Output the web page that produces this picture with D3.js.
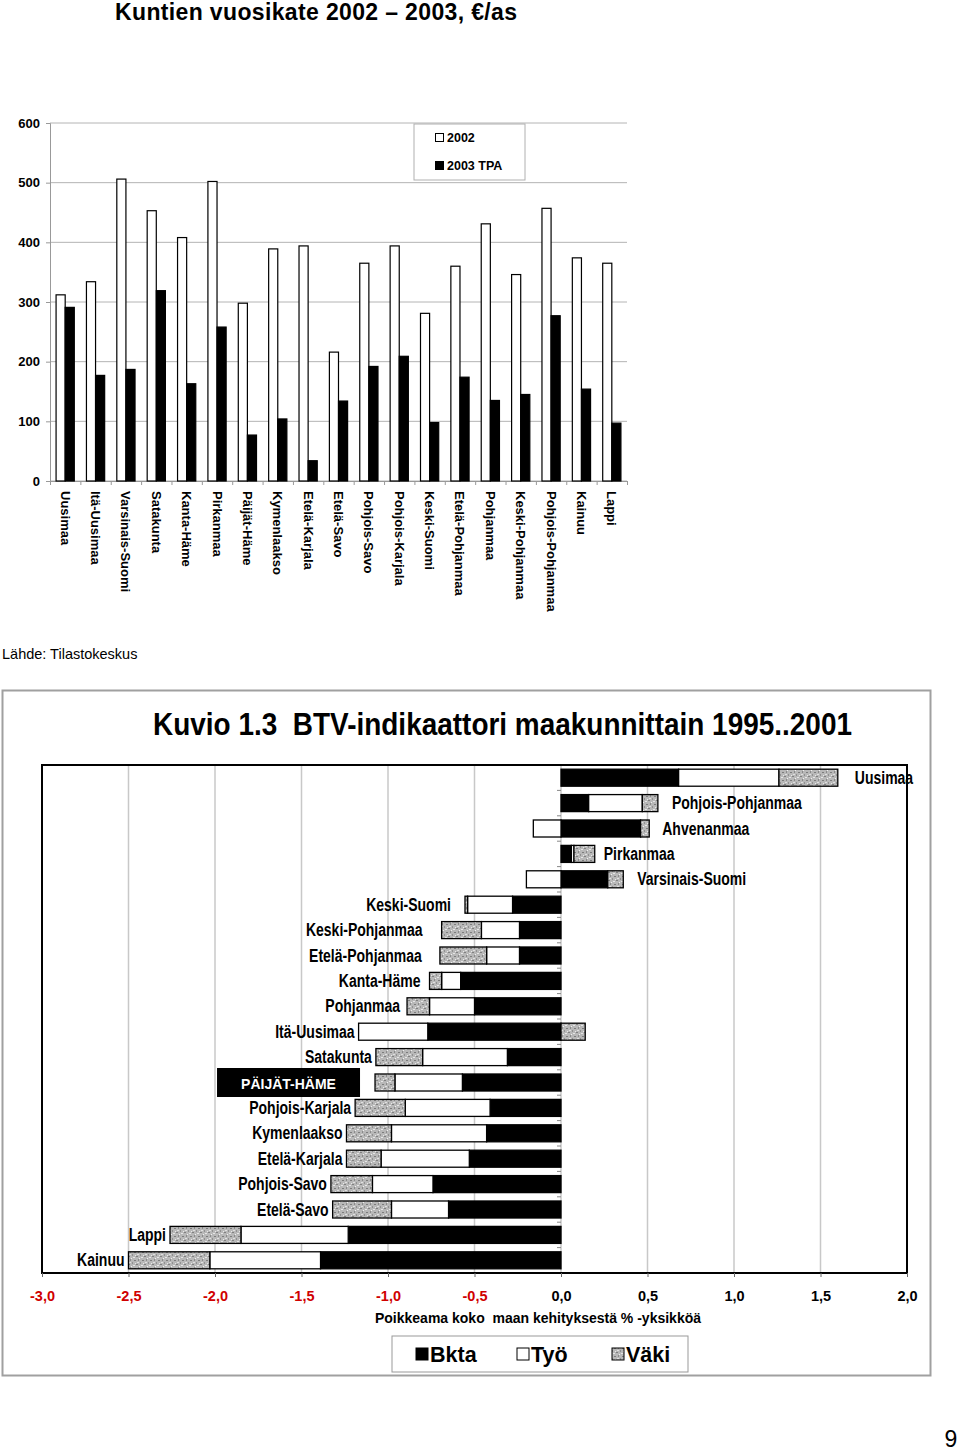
<!DOCTYPE html>
<html>
<head>
<meta charset="utf-8">
<script src="https://cdn.jsdelivr.net/npm/d3@7"></script>
<style>
body { margin: 0; background: #fff; }
svg { display: block; }
text { white-space: pre; }
</style>
</head>
<body>
<script>
// ---- DATA: kuntien vuosikate (€/as) ----
var maakunnat = ["Uusimaa","Itä-Uusimaa","Varsinais-Suomi","Satakunta","Kanta-Häme","Pirkanmaa","Päijät-Häme","Kymenlaakso","Etelä-Karjala","Etelä-Savo","Pohjois-Savo","Pohjois-Karjala","Keski-Suomi","Etelä-Pohjanmaa","Pohjanmaa","Keski-Pohjanmaa","Pohjois-Pohjanmaa","Kainuu","Lappi"];
var vk2002 = [312,334,506,453,408,502,298,389,394,216,365,394,281,360,431,346,457,374,365];
var vk2003 = [291,177,187,319,163,258,77,104,34,134,192,209,98,174,135,145,277,154,97];
var sarjat = ["2002","2003 TPA"];
var yTicks = [0,100,200,300,400,500,600];

// ---- DATA: BTV-indikaattori ----
var alueet = ["Uusimaa","Pohjois-Pohjanmaa","Ahvenanmaa","Pirkanmaa","Varsinais-Suomi","Keski-Suomi","Keski-Pohjanmaa","Etelä-Pohjanmaa","Kanta-Häme","Pohjanmaa","Itä-Uusimaa","Satakunta","Päijät-Häme","Pohjois-Karjala","Kymenlaakso","Etelä-Karjala","Pohjois-Savo","Etelä-Savo","Lappi","Kainuu"];
var bkta = [0.68,0.16,0.46,0.06,0.27,-0.28,-0.24,-0.24,-0.58,-0.50,-0.77,-0.31,-0.57,-0.41,-0.43,-0.53,-0.74,-0.65,-1.23,-1.39];
var tyo  = [0.58,0.31,-0.16,0.015,-0.20,-0.26,-0.22,-0.19,-0.11,-0.26,-0.40,-0.49,-0.39,-0.49,-0.55,-0.51,-0.35,-0.33,-0.62,-0.64];
var vaki = [0.34,0.09,0.05,0.12,0.09,-0.015,-0.23,-0.27,-0.07,-0.13,0.14,-0.27,-0.115,-0.29,-0.26,-0.20,-0.24,-0.34,-0.41,-0.47];
var btvSarjat = ["Bkta","Työ","Väki"];
var xTicks = [-3,-2.5,-2,-1.5,-1,-0.5,0,0.5,1,1.5,2];

// label gaps (px) that differ from the default ones
var labelGap = {"Uusimaa":17,"Pohjois-Pohjanmaa":14,"Ahvenanmaa":13,"Pirkanmaa":9,"Varsinais-Suomi":14,
                "Keski-Suomi":14,"Keski-Pohjanmaa":19,"Etelä-Pohjanmaa":18,"Kanta-Häme":9,"Pohjanmaa":7};

var arial = "'Liberation Sans', Arial, sans-serif";

// squeeze a text like Arial Narrow
function narrow(sel, k) {
  sel.each(function() {
    var len = this.getComputedTextLength();
    d3.select(this).attr("textLength", len * (k || 0.8)).attr("lengthAdjust", "spacingAndGlyphs");
  });
}

var svg = d3.select("body").append("svg")
    .attr("width", 960)
    .attr("height", 1451);

// pattern for Väki
var pat = svg.append("defs").append("pattern")
    .attr("id", "vakiPat")
    .attr("patternUnits", "userSpaceOnUse")
    .attr("width", 8).attr("height", 8);
pat.append("rect").attr("width", 8).attr("height", 8).attr("fill", "#b8b8b8");
[[0,0,2,1,"#808080"],[5,1,2,1,"#e6e6e6"],[2,3,1,2,"#8a8a8a"],[6,4,2,1,"#7c7c7c"],
 [1,6,2,1,"#e0e0e0"],[4,6,1,2,"#909090"],[3,2,1,1,"#f0f0f0"],[7,7,1,1,"#e8e8e8"]].forEach(function(s) {
  pat.append("rect").attr("x", s[0]).attr("y", s[1]).attr("width", s[2]).attr("height", s[3]).attr("fill", s[4]);
});

// ================= TOP CHART =================
svg.append("text")
    .attr("x", 115).attr("y", 20)
    .attr("textLength", 402)
    .style("font-family", arial).style("font-weight", "bold").style("font-size", "23px")
    .text("Kuntien vuosikate 2002 – 2003, €/as");

var x0 = d3.scaleBand().domain(maakunnat).range([50, 627]).paddingInner(0.4).paddingOuter(0.2);
var x1 = d3.scaleBand().domain(sarjat).range([0, x0.bandwidth()]);
var y = d3.scaleLinear().domain([0, 600]).range([481, 123]);

var gTop = svg.append("g");

gTop.selectAll(".grid").data(yTicks).enter().append("line")
    .attr("x1", 50).attr("x2", 627)
    .attr("y1", function(d) { return y(d); })
    .attr("y2", function(d) { return y(d); })
    .attr("stroke", "#b4b4b4");

var yAx = gTop.append("g")
    .attr("transform", "translate(50,0)")
    .call(d3.axisLeft(y).tickValues(yTicks).tickSize(4).tickPadding(6));
yAx.select(".domain").attr("stroke", "#999");
yAx.selectAll("line").attr("stroke", "#999");
yAx.selectAll("text").style("font-family", arial).style("font-weight", "bold").style("font-size", "13px").attr("fill", "#000");

var catTick = d3.scaleLinear().domain([0, maakunnat.length]).range([50, 627]);
var xAx = gTop.append("g")
    .attr("transform", "translate(0,481)")
    .call(d3.axisBottom(catTick).tickValues(d3.range(maakunnat.length + 1)).tickFormat("").tickSize(4).tickSizeOuter(0));
xAx.select(".domain").attr("stroke", "#999");
xAx.selectAll("line").attr("stroke", "#999");

var rows = maakunnat.map(function(m, i) { return {m: m, v: [vk2002[i], vk2003[i]]}; });

var grp = gTop.selectAll(".cat").data(rows).enter().append("g")
    .attr("transform", function(d) { return "translate(" + x0(d.m) + ",0)"; });

grp.selectAll("rect").data(function(d) { return d.v.map(function(v, i) { return {k: sarjat[i], v: v}; }); })
  .enter().append("rect")
    .attr("x", function(d) { return x1(d.k); })
    .attr("y", function(d) { return y(d.v); })
    .attr("width", x1.bandwidth())
    .attr("height", function(d) { return y(0) - y(d.v); })
    .attr("fill", function(d) { return d.k == "2002" ? "#fff" : "#000"; })
    .attr("stroke", "#000")
    .attr("stroke-width", 1.2);

gTop.selectAll(".lbl").data(maakunnat).enter().append("text")
    .attr("transform", function(d) { return "translate(" + (x0(d) + x0.bandwidth() / 2) + ",491) rotate(90)"; })
    .attr("dominant-baseline", "central")
    .style("font-family", arial).style("font-weight", "bold").style("font-size", "13px")
    .text(function(d) { return d; });

// legend
gTop.append("rect").attr("x", 414).attr("y", 124).attr("width", 111).attr("height", 56)
    .attr("fill", "#fff").attr("stroke", "#b0b0b0");
sarjat.forEach(function(s, i) {
  gTop.append("rect").attr("x", 435.5).attr("y", 133.5 + i * 28).attr("width", 8).attr("height", 8)
      .attr("fill", i == 0 ? "#fff" : "#000").attr("stroke", "#000");
  gTop.append("text").attr("x", 447).attr("y", 142 + i * 28)
      .style("font-family", arial).style("font-weight", "bold").style("font-size", "12.5px")
      .text(s);
});

svg.append("text").attr("x", 2).attr("y", 659)
    .style("font-family", arial).style("font-size", "14.5px")
    .text("Lähde: Tilastokeskus");

// ================= BOTTOM CHART =================
svg.append("rect").attr("x", 2.5).attr("y", 690.5).attr("width", 928).attr("height", 685)
    .attr("fill", "none").attr("stroke", "#a0a0a0").attr("stroke-width", 2);

svg.append("text").attr("x", 502.5).attr("y", 735)
    .attr("text-anchor", "middle")
    .attr("textLength", 699).attr("lengthAdjust", "spacingAndGlyphs")
    .style("font-family", arial).style("font-weight", "bold").style("font-size", "32px")
    .text("Kuvio 1.3  BTV-indikaattori maakunnittain 1995..2001");

var x = d3.scaleLinear().domain([-3, 2]).range([42, 907]);
var yb = d3.scaleBand().domain(alueet).range([765, 1273]).paddingInner(0.33).paddingOuter(0.165);

var bot = svg.append("g");

bot.selectAll(".vgrid").data(xTicks.slice(1, -1)).enter().append("line")
    .attr("x1", function(d) { return x(d); })
    .attr("x2", function(d) { return x(d); })
    .attr("y1", 765).attr("y2", 1273)
    .attr("stroke", "#c8c8c8").attr("stroke-width", 1.5);

// small category ticks at zero
var step = yb.step();
bot.selectAll(".ztick").data(d3.range(alueet.length + 1)).enter().append("line")
    .attr("x1", x(0) - 4).attr("x2", x(0))
    .attr("y1", function(i) { return 765 + i * step; })
    .attr("y2", function(i) { return 765 + i * step; })
    .attr("stroke", "#888");

var btvRows = alueet.map(function(a, i) { return {alue: a, "Bkta": bkta[i], "Työ": tyo[i], "Väki": vaki[i]}; });
var stacked = d3.stack().keys(btvSarjat).offset(d3.stackOffsetDiverging)(btvRows);
var fills = {"Bkta": "#000", "Työ": "#fff", "Väki": "url(#vakiPat)"};

bot.selectAll(".serie").data(stacked).enter().append("g")
    .attr("fill", function(s) { return fills[s.key]; })
  .selectAll("rect").data(function(s) { return s; }).enter().append("rect")
    .attr("x", function(d) { return x(Math.min(d[0], d[1])); })
    .attr("y", function(d) { return yb(d.data.alue); })
    .attr("width", function(d) { return Math.abs(x(d[1]) - x(d[0])); })
    .attr("height", yb.bandwidth())
    .attr("stroke", "#000")
    .attr("stroke-width", 1.3);

// labels
btvRows.forEach(function(r) {
  var pos = 0, neg = 0;
  btvSarjat.forEach(function(k) { if (r[k] > 0) pos += r[k]; else neg += r[k]; });
  var cy = yb(r.alue) + yb.bandwidth() / 2;
  if (r.alue == "Päijät-Häme") {
    var boxRight = x(neg) - 15;
    bot.append("rect").attr("x", boxRight - 143).attr("y", cy - 14.5).attr("width", 143).attr("height", 29).attr("fill", "#000");
    bot.append("text").attr("x", boxRight - 71.5).attr("y", cy + 1)
        .attr("text-anchor", "middle").attr("dominant-baseline", "central")
        .attr("fill", "#fff")
        .style("font-family", arial).style("font-weight", "bold").style("font-size", "14px")
        .text("PÄIJÄT-HÄME");
    return;
  }
  var right = pos > -neg;
  var gap = labelGap[r.alue] || (right ? 12 : 4);
  bot.append("text")
      .attr("x", right ? x(pos) + gap : x(neg) - gap)
      .attr("y", cy)
      .attr("text-anchor", right ? "start" : "end")
      .attr("dominant-baseline", "central")
      .style("font-family", arial).style("font-weight", "bold").style("font-size", "17.5px")
      .text(r.alue)
      .call(narrow);
});

// plot border
bot.append("rect").attr("x", 42).attr("y", 765).attr("width", 865).attr("height", 508)
    .attr("fill", "none").attr("stroke", "#000").attr("stroke-width", 2);

var fmt = function(d) { return d3.format(".1f")(d).replace("−", "-").replace(".", ","); };
var xAxB = bot.append("g")
    .attr("transform", "translate(0,1273)")
    .call(d3.axisBottom(x).tickValues(xTicks).tickFormat(fmt).tickSize(4).tickPadding(14).tickSizeOuter(0));
xAxB.select(".domain").remove();
xAxB.selectAll("line").attr("stroke", "#666");
xAxB.selectAll("text")
    .style("font-family", arial).style("font-weight", "bold").style("font-size", "14.5px")
    .attr("fill", function(d) { return d < 0 ? "#d00000" : "#000"; });

bot.append("text").attr("x", 538).attr("y", 1323)
    .attr("text-anchor", "middle")
    .style("font-family", arial).style("font-weight", "bold").style("font-size", "14px")
    .text("Poikkeama koko  maan kehityksestä % -yksikköä");

// legend
bot.append("rect").attr("x", 392).attr("y", 1336).attr("width", 296).attr("height", 36)
    .attr("fill", "#fff").attr("stroke", "#999");
var legX = [416, 517, 612];
btvSarjat.forEach(function(s, i) {
  bot.append("rect").attr("x", legX[i]).attr("y", 1348).attr("width", 12).attr("height", 12)
      .attr("fill", fills[s]).attr("stroke", "#000");
  bot.append("text").attr("x", legX[i] + 14).attr("y", 1362)
      .style("font-family", arial).style("font-weight", "bold").style("font-size", "21.5px")
      .text(s);
});

// page number
svg.append("text").attr("x", 951).attr("y", 1447)
    .attr("text-anchor", "middle")
    .style("font-family", arial).style("font-size", "23px")
    .text("9");
</script>
</body>
</html>
